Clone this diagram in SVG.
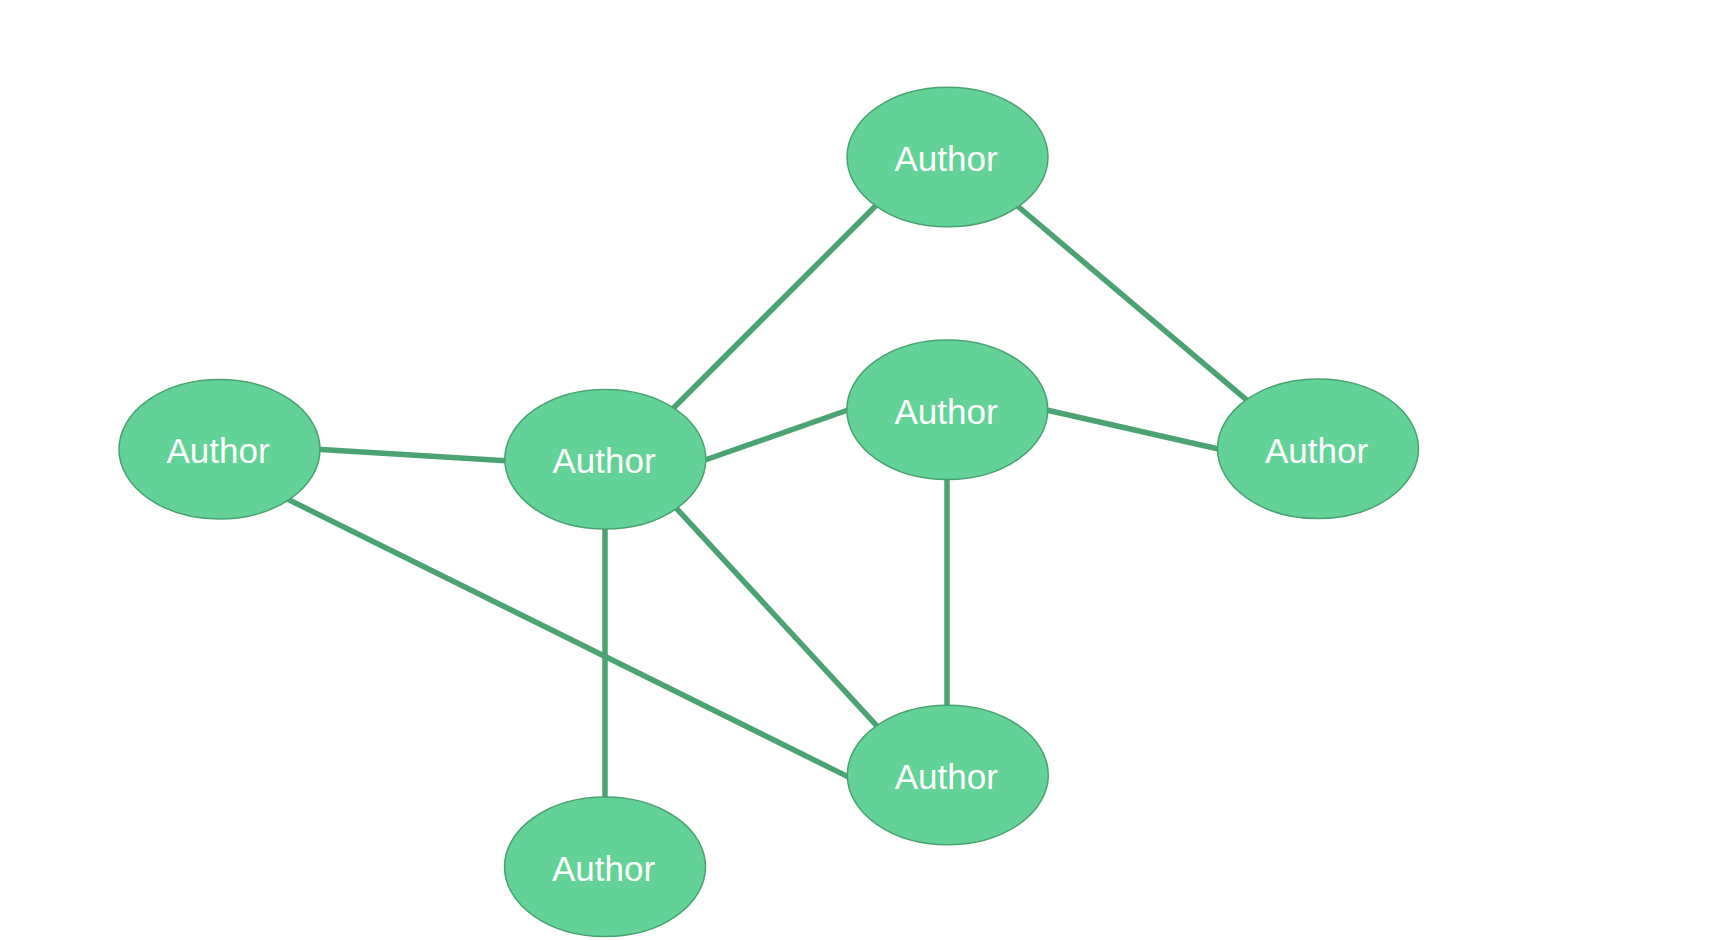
<svg xmlns="http://www.w3.org/2000/svg" width="1712" height="940" viewBox="0 0 1712 940">
<style>
.edge{stroke:#4ba272;stroke-width:5.5;fill:none}
.node ellipse{fill:#62d296;stroke:#4aa272;stroke-width:1.5}
.node text{fill:#ffffff;font-family:"Liberation Sans",Arial,sans-serif;font-size:35px;text-anchor:middle}
</style>
<rect width="1712" height="940" fill="#ffffff"/>
<g id="connectors">
<line class="edge" x1="879" y1="202.5" x2="669" y2="412.5"/>
<line class="edge" x1="1013.7" y1="202.8" x2="1251.3" y2="403.9"/>
<line class="edge" x1="313" y1="449" x2="511" y2="461"/>
<line class="edge" x1="283.8" y1="497.3" x2="853.3" y2="779.4"/>
<line class="edge" x1="699.3" y1="462" x2="853.7" y2="408"/>
<line class="edge" x1="605" y1="525" x2="605" y2="802"/>
<line class="edge" x1="673" y1="504.6" x2="881" y2="730.4"/>
<line class="edge" x1="1041" y1="408.7" x2="1224" y2="450.3"/>
<line class="edge" x1="947" y1="475" x2="947" y2="711"/>
</g>
<g id="node-top" class="node"><ellipse cx="947.5" cy="157" rx="100.5" ry="69.8"/><text x="946" y="171">Author</text></g>
<g id="node-left" class="node"><ellipse cx="219.5" cy="449.2" rx="100.5" ry="69.8"/><text x="218" y="463">Author</text></g>
<g id="node-center" class="node"><ellipse cx="605.3" cy="459.3" rx="100.5" ry="69.8"/><text x="604" y="473">Author</text></g>
<g id="node-mid" class="node"><ellipse cx="947.3" cy="409.7" rx="100.5" ry="69.8"/><text x="946" y="424">Author</text></g>
<g id="node-right" class="node"><ellipse cx="1318" cy="448.8" rx="100.5" ry="69.8"/><text x="1316.5" y="463">Author</text></g>
<g id="node-bottom" class="node"><ellipse cx="605" cy="866.7" rx="100.5" ry="69.8"/><text x="603.5" y="881">Author</text></g>
<g id="node-bottomright" class="node"><ellipse cx="947.8" cy="775" rx="100.5" ry="69.8"/><text x="946.3" y="789">Author</text></g>
</svg>
